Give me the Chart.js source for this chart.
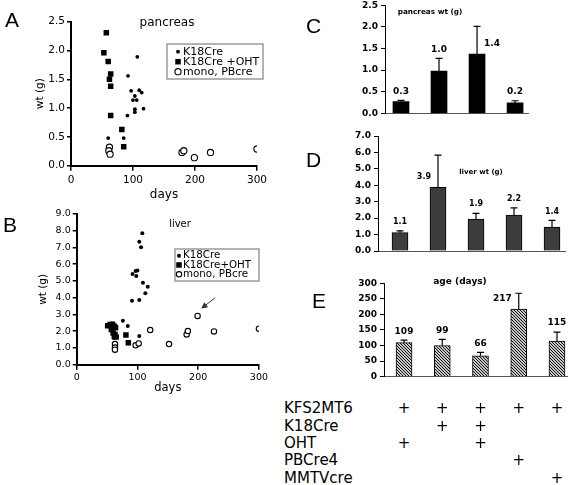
<!DOCTYPE html>
<html>
<head>
<meta charset="utf-8">
<script src="https://cdn.jsdelivr.net/npm/chart.js@4.4.0/dist/chart.umd.min.js"></script>
<style>
  html, body { margin: 0; padding: 0; background: #fff; }
  body { width: 568px; height: 485px; position: relative; overflow: hidden; font-family: "DejaVu Sans", Verdana, sans-serif; color: #000; }
  canvas { position: absolute; }
  .letter { position: absolute; font-family: "Liberation Sans", Arial, sans-serif; font-size: 21px; line-height: 1; }
  .note { position: absolute; line-height: 1; white-space: nowrap; transform: translate(-50%, -50%); }
  .row { position: absolute; left: 284px; font-size: 15px; line-height: 1; white-space: nowrap; }
  .plus { position: absolute; font-size: 15px; line-height: 1; transform: translateX(-50%); }
</style>
</head>
<body>
<canvas id="cA" width="270" height="210" style="left:0;top:0"></canvas>
<canvas id="cB" width="270" height="200" style="left:0;top:200px"></canvas>
<canvas id="cC" width="298" height="135" style="left:270px;top:-10px"></canvas>
<canvas id="cD" width="298" height="135" style="left:270px;top:125px"></canvas>
<canvas id="cE" width="298" height="115" style="left:270px;top:270px"></canvas>

<div class="letter" style="left:5px;top:9px">A</div>
<div class="letter" style="left:3px;top:214px">B</div>
<div class="letter" style="left:306px;top:15px">C</div>
<div class="letter" style="left:306px;top:149px">D</div>
<div class="letter" style="left:312px;top:290px">E</div>

<div class="note" style="left:167px;top:22px;font-size:12px">pancreas</div>
<div class="note" style="left:180px;top:224px;font-size:10px">liver</div>
<div class="note" style="left:430px;top:12px;font-size:7.3px;font-weight:bold">pancreas wt (g)</div>
<div class="note" style="left:481px;top:172px;font-size:7px;font-weight:bold">liver wt (g)</div>
<div class="note" style="left:460px;top:281px;font-size:9px;font-weight:bold">age (days)</div>

<div id="table"></div>

<script>
  /* Tumour burden figure: scatter panels A/B, bar panels C/D/E, genotype table */

  // ── A: pancreas weight vs age (days, g) ───────────────────────────────────
  const panK18  = [[107,1.89],[92,1.56],[97,1.30],[110,1.31],[114,1.27],[103,1.21],[100,1.14],[106,1.14],
                   [103,0.98],[103,0.93],[117,0.99],[91,0.87],[60,0.48],[85,0.48]];
  const panOHT  = [[57,2.31],[53,1.96],[60,1.81],[62,1.50],[64,1.59],[64,1.38],[64,0.87],[82,0.63],[85,0.33]];
  const panMono = [[62,0.32],[61,0.26],[63,0.20],[179,0.23],[182,0.26],[199,0.14],[225,0.23],[300,0.29]];

  // ── B: liver weight vs age ────────────────────────────────────────────────
  const livK18  = [[108,7.85],[103,7.35],[106,7.01],[100,5.62],[97,5.60],[92,5.42],[98,5.30],[109,4.90],
                   [117,4.66],[113,4.26],[91,3.82],[103,3.86],[76,2.63],[84,2.31],[103,1.71],[57,2.25],[61,1.60]];
  const livOHT  = [[51,2.33],[55,2.40],[59,2.42],[62,2.30],[57,2.10],[64,2.20],[60,1.90],[63,1.80],
                   [65,1.65],[62,1.70],[81,1.77],[85,1.31]];
  const livMono = [[63,1.23],[63,1.02],[63,0.90],[97,1.16],[102,1.27],[121,2.07],[152,1.23],[181,1.81],
                   [183,2.01],[199,2.91],[226,1.99],[300,2.15]];

  const legendA = ['K18Cre', 'K18Cre +OHT', 'mono, PBcre'];
  const legendB = ['K18Cre', 'K18Cre+OHT', 'mono, PBcre'];

  // ── C/D/E: group means, upper error, printed labels ───────────────────────
  const panMean = [0.27, 0.98, 1.37, 0.24];
  const panErr  = [0.03, 0.29, 0.64, 0.05];
  const panLbl  = ['0.3', '1.0', '1.4', '0.2'];

  const livMean = [1.12, 3.87, 1.95, 2.18, 1.46];
  const livErr  = [0.10, 1.97, 0.34, 0.44, 0.40];
  const livLbl  = ['1.1', '3.9', '1.9', '2.2', '1.4'];

  const ageMean = [109, 100, 67, 217, 114];
  const ageErr  = [8, 20, 11, 51, 29];
  const ageLbl  = ['109', '99', '66', '217', '115'];

  // ── Genotype table ────────────────────────────────────────────────────────
  const genes = ['KFS2MT6', 'K18Cre', 'OHT', 'PBCre4', 'MMTVcre'];
  const genotype = [
    [1, 1, 1, 1, 1],
    [0, 1, 1, 0, 0],
    [1, 0, 1, 0, 0],
    [0, 0, 0, 1, 0],
    [0, 0, 0, 0, 1]
  ];

  Chart.defaults.font.family = '"DejaVu Sans", Verdana, sans-serif';
  Chart.defaults.color = '#000';
  Chart.defaults.animation = false;
  Chart.defaults.responsive = false;
  Chart.defaults.plugins.legend.display = false;
  Chart.defaults.plugins.tooltip.enabled = false;

  // ── Plugins ───────────────────────────────────────────────────────────────
  const scatterLegend = {
    id: 'scatterLegend',
    afterDraw(chart, args, o) {
      const ctx = chart.ctx;
      ctx.save();
      ctx.strokeStyle = '#9a9a9a';
      ctx.lineWidth = 1.5;
      ctx.strokeRect(o.x, o.y, o.w, o.h);
      ctx.font = o.size + 'px "DejaVu Sans"';
      ctx.textBaseline = 'middle';
      chart.data.datasets.forEach((ds, i) => {
        const cy = o.y + o.first + i * o.gap;
        const cx = o.x + o.sym;
        const r = ds.pointRadius;
        ctx.fillStyle = ds.backgroundColor;
        ctx.strokeStyle = ds.borderColor;
        ctx.lineWidth = ds.borderWidth;
        ctx.beginPath();
        if (ds.pointStyle === 'rect') {
          const h = r * Math.SQRT1_2;
          ctx.rect(cx - h, cy - h, 2 * h, 2 * h);
        } else {
          ctx.arc(cx, cy, r, 0, Math.PI * 2);
        }
        ctx.fill();
        if (ds.borderWidth) ctx.stroke();
        ctx.fillStyle = '#000';
        ctx.fillText(ds.label, o.x + o.text, cy);
      });
      ctx.restore();
    }
  };

  const arrowNote = {
    id: 'arrowNote',
    afterDatasetsDraw(chart, args, o) {
      const { x, y } = chart.scales;
      const ctx = chart.ctx;
      const x1 = x.getPixelForValue(o.from[0]), y1 = y.getPixelForValue(o.from[1]);
      const x2 = x.getPixelForValue(o.to[0]),   y2 = y.getPixelForValue(o.to[1]);
      const a = Math.atan2(y2 - y1, x2 - x1);
      ctx.save();
      ctx.strokeStyle = '#333';
      ctx.fillStyle = '#333';
      ctx.lineWidth = 1;
      ctx.beginPath();
      ctx.moveTo(x1, y1);
      ctx.lineTo(x2 - 4 * Math.cos(a), y2 - 4 * Math.sin(a));
      ctx.stroke();
      ctx.beginPath();
      ctx.moveTo(x2, y2);
      ctx.lineTo(x2 - 7 * Math.cos(a - 0.45), y2 - 7 * Math.sin(a - 0.45));
      ctx.lineTo(x2 - 7 * Math.cos(a + 0.45), y2 - 7 * Math.sin(a + 0.45));
      ctx.closePath();
      ctx.fill();
      ctx.restore();
    }
  };

  // error bars (upper only) + value labels
  const barExtras = {
    id: 'barExtras',
    afterDatasetsDraw(chart, args, o) {
      const ctx = chart.ctx;
      const ys = chart.scales.y;
      const meta = chart.getDatasetMeta(0);
      const ds = chart.data.datasets[0];
      ctx.save();
      ctx.strokeStyle = '#000';
      ctx.lineWidth = 1.2;
      ctx.font = 'bold ' + o.size + 'px "DejaVu Sans"';
      ctx.fillStyle = '#000';
      ctx.textAlign = 'center';
      ctx.textBaseline = 'middle';
      meta.data.forEach((bar, i) => {
        const top = ys.getPixelForValue(ds.data[i].y + o.err[i]);
        ctx.beginPath();
        ctx.moveTo(bar.x, bar.y);
        ctx.lineTo(bar.x, top);
        ctx.moveTo(bar.x - 3.5, top);
        ctx.lineTo(bar.x + 3.5, top);
        ctx.stroke();
        const txt = o.labels[i];
        const side = o.side[i] || 0;
        if (side) {
          const w = ctx.measureText(txt).width;
          ctx.fillText(txt, bar.x + side * (w / 2 + 7), bar.y - 10);
        } else {
          ctx.fillText(txt, bar.x, top - 9);
        }
      });
      ctx.restore();
    }
  };

  // ── Builders ──────────────────────────────────────────────────────────────
  function scatterChart(id, sets, names, cfg) {
    const styles = [
      { pointStyle: 'circle', pointRadius: cfg.dot,  backgroundColor: '#000', borderColor: '#000', borderWidth: 0 },
      { pointStyle: 'rect',   pointRadius: cfg.sq,   backgroundColor: '#000', borderColor: '#000', borderWidth: 0 },
      { pointStyle: 'circle', pointRadius: cfg.ring, backgroundColor: '#fff', borderColor: '#000', borderWidth: 1.1 }
    ];
    const axisGrid = { drawOnChartArea: false, color: '#000', lineWidth: 1.5 };
    return new Chart(document.getElementById(id), {
      type: 'scatter',
      data: {
        datasets: sets.map((s, i) => Object.assign({
          label: names[i],
          data: s.map(p => ({ x: p[0], y: p[1] }))
        }, styles[i]))
      },
      options: {
        layout: { padding: cfg.pad },
        plugins: { scatterLegend: cfg.legend, arrowNote: cfg.arrow || false },
        scales: {
          x: {
            type: 'linear', min: 0, max: 300,
            ticks: { stepSize: 100, font: { size: cfg.tick }, padding: cfg.xpad, maxRotation: 0 },
            grid: Object.assign({ tickLength: 5 }, axisGrid),
            border: { color: '#000', width: 2 },
            title: { display: true, text: 'days', font: { size: cfg.xt }, padding: { top: 4, bottom: 4 } },
            afterFit: s => { s.height = cfg.xh; }
          },
          y: {
            min: 0, max: cfg.ymax,
            ticks: { stepSize: cfg.ystep, font: { size: cfg.tick }, padding: 2, callback: v => v.toFixed(1) },
            grid: Object.assign({ tickLength: 4 }, axisGrid),
            border: { color: '#000', width: 2 },
            title: { display: true, text: 'wt (g)', font: { size: cfg.yt }, padding: { top: 4, bottom: 4 } },
            afterFit: s => { s.width = cfg.yw; }
          }
        }
      },
      plugins: [scatterLegend, arrowNote]
    });
  }

  function barChart(id, means, errs, lbls, cfg) {
    return new Chart(document.getElementById(id), {
      type: 'bar',
      data: {
        datasets: [{
          data: means.map((v, i) => ({ x: i + 1, y: v })),
          backgroundColor: cfg.fill,
          borderColor: '#000',
          borderWidth: cfg.bw,
          barThickness: 16
        }]
      },
      options: {
        layout: { padding: cfg.pad },
        plugins: { barExtras: { err: errs, labels: lbls, side: cfg.side, size: cfg.lbl } },
        scales: {
          x: {
            type: 'linear', min: cfg.xmin, max: cfg.xmax, offset: false,
            ticks: { display: false },
            grid: { drawOnChartArea: false, drawTicks: false, offset: false },
            border: { color: '#555', width: 1 },
            afterFit: s => { s.height = 0; }
          },
          y: {
            min: 0, max: cfg.ymax,
            ticks: { stepSize: cfg.step, font: { size: 9, weight: 'bold' }, padding: 3, callback: cfg.fmt },
            grid: { drawOnChartArea: false, tickLength: 4, color: '#000' },
            border: { color: '#000', width: 1 },
            afterFit: s => { s.width = cfg.yw; }
          }
        }
      },
      plugins: [barExtras]
    });
  }

  // diagonal hatching for the age bars
  function hatch() {
    const c = document.createElement('canvas');
    c.width = c.height = 3;
    const g = c.getContext('2d');
    g.fillStyle = '#c8c8c8';
    g.fillRect(0, 0, 3, 3);
    g.strokeStyle = '#111';
    g.lineWidth = 1;
    g.beginPath();
    g.moveTo(-1, -1); g.lineTo(4, 4);
    g.moveTo(-1, 2);  g.lineTo(1, 4);
    g.moveTo(2, -1);  g.lineTo(4, 1);
    g.stroke();
    return g.createPattern(c, 'repeat');
  }

  // ── Panels ────────────────────────────────────────────────────────────────
  scatterChart('cA', [panK18, panOHT, panMono], legendA, {
    pad: { left: 29.7, top: 21.7, right: 12, bottom: 3.8 },
    yw: 41.3, xh: 40.5, ymax: 2.5, ystep: 0.5,
    tick: 10.5, xpad: 3, xt: 12, yt: 10.5,
    dot: 1.9, sq: 3.9, ring: 3.1,
    legend: { x: 167, y: 44, w: 96, h: 35, first: 7.7, gap: 10, sym: 11, text: 16, size: 11 }
  });

  scatterChart('cB', [livK18, livOHT, livMono], legendB, {
    pad: { left: 32.7, top: 14, right: 9.3, bottom: 1.1 },
    yw: 44, xh: 34.2, ymax: 9, ystep: 1,
    tick: 9.5, xpad: 2, xt: 11.5, yt: 10.5,
    dot: 2, sq: 3.9, ring: 2.7,
    legend: { x: 175, y: 49, w: 84, h: 32, first: 6.7, gap: 9.3, sym: 4, text: 8, size: 10.3 },
    arrow: { from: [228, 4.0], to: [205, 3.35] }
  });

  barChart('cC', panMean, panErr, panLbl, {
    pad: { left: 0, top: 15.3, right: 40, bottom: 11.7 },
    yw: 115, xmin: 0.58, xmax: 4.34, ymax: 2.5, step: 0.5, fmt: v => v.toFixed(1),
    fill: '#000', bw: 0, side: [0, 0, 1, 0], lbl: 9
  });

  barChart('cD', livMean, livErr, livLbl, {
    pad: { left: 0, top: 11, right: 3, bottom: 9 },
    yw: 108, xmin: 0.421, xmax: 5.342, ymax: 7, step: 1, fmt: v => v.toFixed(1),
    fill: '#3c3c3c', bw: 1, side: [0, -1, 0, 0, 0], lbl: 8
  });

  const chartE = barChart('cE', ageMean, ageErr, ageLbl, {
    pad: { left: 0, top: 13.3, right: 0, bottom: 5.7 },
    yw: 114, xmin: 0.477, xmax: 5.288, ymax: 300, step: 50, fmt: v => String(v),
    fill: hatch(), bw: 1, side: [0, 0, 0, -1, 0], lbl: 9
  });

  // ── Genotype table, columns aligned to panel E bars ───────────────────────
  const table = document.getElementById('table');
  genes.forEach((name, r) => {
    const top = 401.3 + r * 17.3;
    const lab = document.createElement('div');
    lab.className = 'row';
    lab.style.top = top + 'px';
    lab.textContent = name;
    table.appendChild(lab);
    genotype[r].forEach((on, c) => {
      if (!on) return;
      const p = document.createElement('div');
      p.className = 'plus';
      p.style.top = top + 'px';
      p.style.left = (270 + chartE.scales.x.getPixelForValue(c + 1)) + 'px';
      p.textContent = '+';
      table.appendChild(p);
    });
  });
</script>
</body>
</html>
